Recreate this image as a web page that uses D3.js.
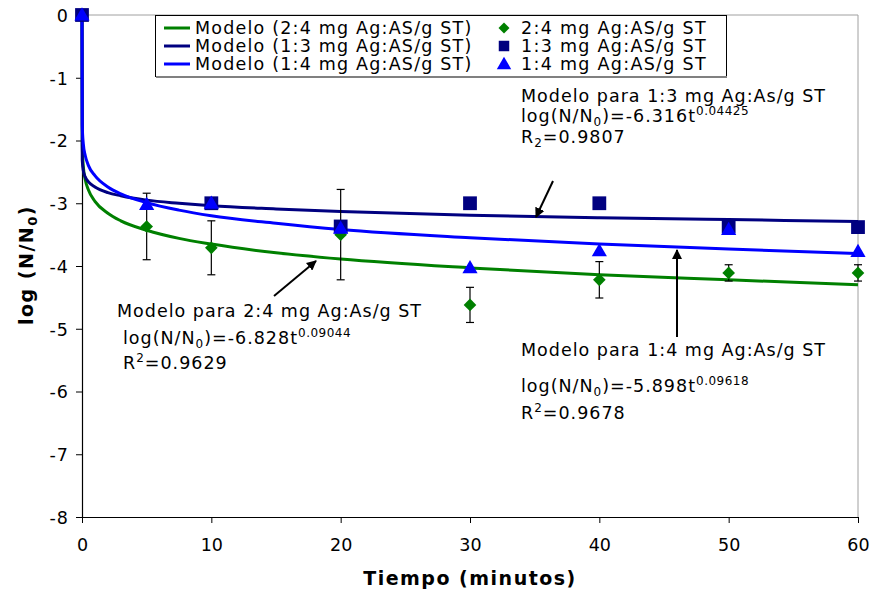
<!DOCTYPE html>
<html>
<head>
<meta charset="utf-8">
<script src="https://cdn.jsdelivr.net/npm/d3@7/dist/d3.min.js"></script>
<style>
  html, body { margin: 0; padding: 0; background: #fff; }
  svg { display: block; font-family: "DejaVu Sans", Verdana, sans-serif; }
</style>
</head>
<body>
<svg id="chart" width="870" height="594"></svg>
<script>
// Measured points (minutes, log N/N0)
const tiempos = [0, 5, 10, 20, 30, 40, 50, 60];
const serie24 = [0, -3.37, -3.71, -3.50, -4.62, -4.22, -4.11, -4.11];
const error24 = [0, 0.53, 0.43, 0.72, 0.28, 0.29, 0.13, 0.13];
const tiempos13 = [0, 10, 20, 30, 40, 50, 60];
const serie13 = [0, -3.00, -3.37, -3.00, -3.00, -3.37, -3.38];
const serie14 = [0, -3.02, -3.00, -3.40, -4.03, -3.76, -3.42, -3.77];

// Fitted model curves, sampled in time
const tModelo = [0, 0.02, 0.1, 0.25, 0.5, 1, 2, 3, 5, 7.5, 10, 15, 20, 30, 40, 50, 60];
const modelo24 = [0, -2.08, -2.41, -2.62, -2.79, -2.97, -3.16, -3.28, -3.43, -3.56, -3.65, -3.79, -3.89, -4.03, -4.14, -4.22, -4.30];
const modelo13 = [0, -2.31, -2.48, -2.58, -2.66, -2.74, -2.83, -2.88, -2.95, -3.00, -3.04, -3.09, -3.13, -3.19, -3.23, -3.26, -3.29];
const modelo14 = [0, -1.76, -2.05, -2.24, -2.40, -2.56, -2.74, -2.85, -2.99, -3.11, -3.20, -3.32, -3.42, -3.55, -3.65, -3.73, -3.80];

const xTicks = [0, 10, 20, 30, 40, 50, 60];
const yTicks = [0, -1, -2, -3, -4, -5, -6, -7, -8];

const cVerde = "#008000", cMarino = "#000080", cAzul = "#0000ff";
const FS = 17.5, LS = 1;   // body text size and tracking

const svg = d3.select("#chart");
const x = d3.scaleLinear().domain([0, 60]).range([82, 858]);
const y = d3.scaleLinear().domain([-8, 0]).range([517, 15]);

// plot frame (top/right)
svg.append("path")
  .attr("d", `M${x(0)},${y(0)}H${x(60)}V${y(-8)}`)
  .attr("fill", "none").attr("stroke", "#a0a0a0").attr("stroke-width", 1);

// axes
const gx = svg.append("g").attr("transform", `translate(0,${y(-8)})`)
  .call(d3.axisBottom(x).tickValues(xTicks).tickFormat(d => String(d))
    .tickSize(6).tickSizeOuter(0).tickPadding(16));
const gy = svg.append("g").attr("transform", `translate(${x(0)},0)`)
  .call(d3.axisLeft(y).tickValues(yTicks).tickFormat(d => String(d))
    .tickSize(6).tickSizeOuter(0).tickPadding(6));
[gx, gy].forEach(g => {
  g.selectAll("path.domain").attr("stroke", "#000").attr("stroke-width", 1.2);
  g.selectAll(".tick line").attr("stroke", "#000");
  g.selectAll(".tick text").attr("font-size", FS).attr("fill", "#000")
    .attr("font-family", "DejaVu Sans, Verdana, sans-serif");
});
gy.selectAll(".tick text").attr("dy", "0.36em").attr("letter-spacing", LS).attr("dx", -1);

// axis titles
svg.append("text").attr("x", 470).attr("y", 585).attr("text-anchor", "middle")
  .attr("font-size", 19).attr("font-weight", "bold").attr("letter-spacing", 1.5)
  .text("Tiempo (minutos)");
const yt = svg.append("text").attr("transform", "translate(33,265) rotate(-90)")
  .attr("text-anchor", "middle").attr("font-size", 19).attr("font-weight", "bold")
  .attr("letter-spacing", 1.5);
yt.append("tspan").text("log (N/N");
yt.append("tspan").attr("font-size", 13).attr("dy", 4).text("0");
yt.append("tspan").attr("dy", -4).text(")");

// model lines
const linea = d3.line().x(d => x(d[0])).y(d => y(d[1])).curve(d3.curveMonotoneX);
[[modelo24, cVerde], [modelo13, cMarino], [modelo14, cAzul]].forEach(([vals, col]) => {
  svg.append("path").datum(tModelo.map((t, i) => [t, vals[i]]))
    .attr("d", linea).attr("fill", "none").attr("stroke", col).attr("stroke-width", 3);
});

// 2:4 error bars and diamonds
const gErr = svg.append("g").attr("stroke", "#000").attr("stroke-width", 1.2);
tiempos.forEach((t, i) => {
  if (!error24[i]) return;
  const x0 = x(t), y1 = y(serie24[i] + error24[i]), y2 = y(serie24[i] - error24[i]);
  gErr.append("line").attr("x1", x0).attr("x2", x0).attr("y1", y1).attr("y2", y2);
  gErr.append("line").attr("x1", x0 - 4).attr("x2", x0 + 4).attr("y1", y1).attr("y2", y1);
  gErr.append("line").attr("x1", x0 - 4).attr("x2", x0 + 4).attr("y1", y2).attr("y2", y2);
});

svg.append("g").selectAll("path").data(tiempos.map((t, i) => [t, serie24[i]])).join("path")
  .attr("transform", d => `translate(${x(d[0])},${y(d[1])}) rotate(45)`)
  .attr("d", d3.symbol().type(d3.symbolSquare).size(80)).attr("fill", cVerde);
svg.append("g").selectAll("path").data(tiempos13.map((t, i) => [t, serie13[i]])).join("path")
  .attr("transform", d => `translate(${x(d[0])},${y(d[1])})`)
  .attr("d", d3.symbol().type(d3.symbolSquare).size(190)).attr("fill", cMarino);
svg.append("g").selectAll("path").data(tiempos.map((t, i) => [t, serie14[i]])).join("path")
  .attr("transform", d => `translate(${x(d[0])},${y(d[1]) + 1})`)
  .attr("d", d3.symbol().type(d3.symbolTriangle).size(100)).attr("fill", cAzul);

// legend
const leg = svg.append("g");
leg.append("rect").attr("x", 155.5).attr("y", 15.5).attr("width", 571).attr("height", 61)
  .attr("fill", "#fff").attr("stroke", "#000").attr("stroke-width", 1);
leg.append("line").attr("x1", 156).attr("x2", 727).attr("y1", 77).attr("y2", 77)
  .attr("stroke", "#808080").attr("stroke-width", 2);
const legLineas = [["Modelo (2:4 mg Ag:AS/g ST)", cVerde], ["Modelo (1:3 mg Ag:AS/g ST)", cMarino], ["Modelo (1:4 mg Ag:AS/g ST)", cAzul]];
const legPuntos = [["2:4 mg Ag:AS/g ST", cVerde, "d"], ["1:3 mg Ag:AS/g ST", cMarino, "s"], ["1:4 mg Ag:AS/g ST", cAzul, "t"]];
legLineas.forEach(([txt, col], i) => {
  const yy = 28 + i * 18;
  leg.append("line").attr("x1", 164).attr("x2", 190).attr("y1", yy).attr("y2", yy)
    .attr("stroke", col).attr("stroke-width", 3);
  leg.append("text").attr("x", 195).attr("y", yy + 6).attr("font-size", FS)
    .attr("letter-spacing", 1.2).text(txt);
});
legPuntos.forEach(([txt, col, s], i) => {
  const yy = 28 + i * 18;
  let p;
  if (s === "d") p = leg.append("path").attr("d", d3.symbol().type(d3.symbolSquare).size(60)())
      .attr("transform", `translate(504,${yy}) rotate(45)`);
  else if (s === "s") p = leg.append("path").attr("d", d3.symbol().type(d3.symbolSquare).size(110)())
      .attr("transform", `translate(504,${yy})`);
  else p = leg.append("path").attr("d", d3.symbol().type(d3.symbolTriangle).size(90)())
      .attr("transform", `translate(504,${yy + 1})`);
  p.attr("fill", col);
  leg.append("text").attr("x", 521).attr("y", yy + 6).attr("font-size", FS)
    .attr("letter-spacing", 1.3).text(txt);
});

// annotations
function nota(x0, ys, titulo, coef, exp, r2, sub) {
  const g = svg.append("g").attr("font-size", FS).attr("fill", "#000").attr("letter-spacing", LS);
  g.append("text").attr("x", x0).attr("y", ys[0]).text(titulo);
  const t2 = g.append("text").attr("x", x0 + ys[3]).attr("y", ys[1]);
  t2.append("tspan").text("log(N/N");
  t2.append("tspan").attr("font-size", 12).attr("dy", 4).text("0");
  t2.append("tspan").attr("dy", -4).text(")=" + coef + "t");
  t2.append("tspan").attr("font-size", 12).attr("dy", -7).attr("letter-spacing", 0.5).text(exp);
  const t3 = g.append("text").attr("x", x0 + ys[3]).attr("y", ys[2]);
  t3.append("tspan").text("R");
  t3.append("tspan").attr("font-size", 12).attr("dy", sub ? 4 : -7).text("2");
  t3.append("tspan").attr("dy", sub ? -4 : 7).text("=" + r2);
}
nota(521, [102, 122, 143, 0], "Modelo para 1:3 mg Ag:As/g ST", "-6.316", "0.04425", "0.9807", true);
nota(117, [317, 344, 369, 6], "Modelo para 2:4 mg Ag:As/g ST", "-6.828", "0.09044", "0.9629", false);
nota(521, [356, 392, 419, 0], "Modelo para 1:4 mg Ag:As/g ST", "-5.898", "0.09618", "0.9678", false);

// arrows
const defs = svg.append("defs");
defs.append("marker").attr("id", "punta").attr("viewBox", "0 0 10 10")
  .attr("refX", 9).attr("refY", 5).attr("markerWidth", 5).attr("markerHeight", 5)
  .attr("orient", "auto").append("path").attr("d", "M0,0L10,5L0,10z").attr("fill", "#000");
[[553, 181, 536, 217], [274, 296, 316, 261], [677, 337, 677, 250]].forEach(([a, b, c, d]) => {
  svg.append("line").attr("x1", a).attr("y1", b).attr("x2", c).attr("y2", d)
    .attr("stroke", "#000").attr("stroke-width", 2).attr("marker-end", "url(#punta)");
});
</script>
</body>
</html>
